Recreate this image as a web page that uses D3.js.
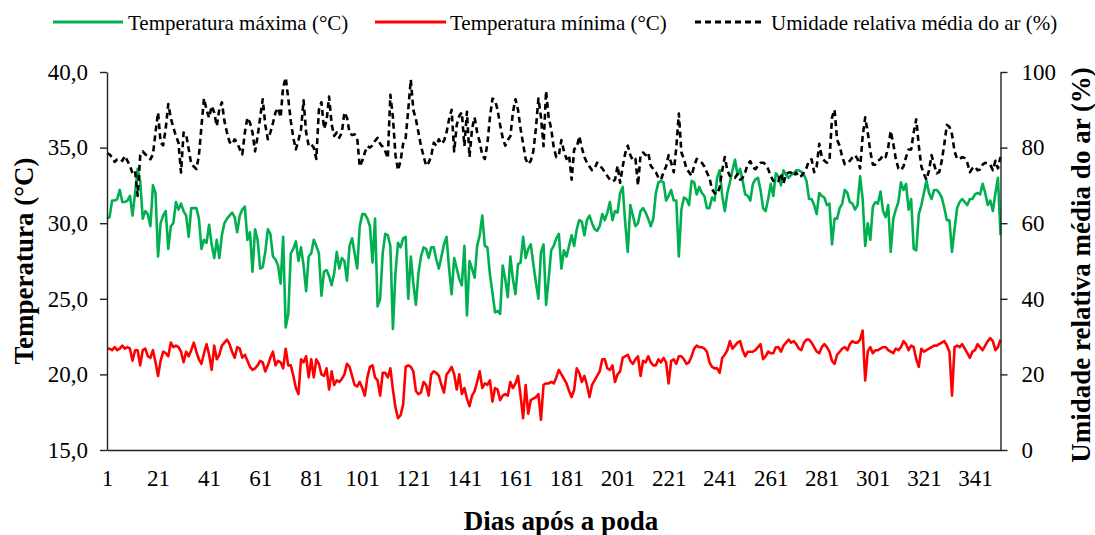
<!DOCTYPE html>
<html>
<head>
<meta charset="utf-8">
<script src="https://cdn.jsdelivr.net/npm/d3@7"></script>
<style>
  html, body { margin: 0; padding: 0; background: #fff; }
  svg { display: block; }
  text { font-family: "Liberation Serif", "Times New Roman", serif; fill: #000; }
</style>
</head>
<body>
<svg id="chart" width="1095" height="535"></svg>
<script>
// ---- Data ----
const firstDay = 1;
const lastDay = 351;

const tempMax = [
  30.3, 30.4, 31.5, 31.5, 31.6, 32.2, 31.4, 31.4, 31.5, 31.8,
  30.5, 32.0, 33.6, 32.8, 30.3, 30.8, 30.6, 29.8, 32.5, 32.0,
  27.8, 30.0, 30.5, 30.8, 28.3, 29.8, 30.0, 31.4, 30.9, 31.3,
  30.8, 30.5, 29.1, 31.0, 31.0, 31.0, 30.3, 28.3, 28.9, 28.7,
  29.9, 28.6, 27.7, 28.9, 27.7, 29.2, 30.0, 30.3, 30.5, 30.7,
  30.4, 29.4, 30.5, 30.9, 31.1, 28.9, 29.4, 26.8,
  29.6, 28.9, 27.0, 27.1, 28.1, 29.6, 29.3, 27.8, 27.6, 27.2, 26.0, 29.1,
  23.1, 24.0, 28.0, 28.3, 28.8, 27.5, 28.4, 27.2, 25.5, 27.8,
  28.0, 28.9, 28.5, 28.0, 25.2, 26.8, 26.9, 26.5, 25.9, 26.7,
  28.1, 27.0, 27.7, 27.5, 26.2, 28.5, 29.0, 28.0, 27.0, 29.8,
  30.6, 30.6, 30.3, 29.8, 27.4, 30.3, 24.5, 25.0, 28.0, 29.3,
  29.2, 28.5, 23.0, 26.7, 28.7, 28.4, 29.0,
  29.1, 25.0, 27.8, 26.0, 24.6, 26.7, 27.8, 28.4, 28.3, 27.7, 28.4, 28.4, 27.6,
  27.0, 27.8, 28.6, 29.1, 27.0, 25.3, 27.7, 27.0, 26.3, 25.9,
  28.5, 23.9, 27.5, 27.0, 26.4, 28.5, 29.2, 30.5, 28.5, 28.4,
  26.6, 25.4, 24.1, 24.2, 24.0, 27.2, 26.3, 25.1, 27.8, 26.3,
  25.3, 27.3, 27.4, 29.1, 27.7, 28.3, 28.6, 27.3, 26.1, 25.0,
  28.1, 28.6, 24.6, 26.3, 28.2, 28.5,
  29.0, 29.3, 27.0, 28.2, 27.8, 28.5, 29.2, 28.5, 29.6, 30.2, 30.1, 29.2, 30.2, 30.5,
  30.0, 29.6, 29.5, 29.8, 30.6, 30.2, 30.7, 31.4, 30.2, 30.8,
  30.7, 32.0, 32.4, 30.0, 28.1, 31.2, 30.5, 29.8, 30.0, 30.8,
  31.0, 30.7, 30.3, 29.8, 30.3, 32.0, 32.7, 32.8, 32.7, 31.5,
  31.8, 32.2, 31.5, 31.5, 27.8, 30.9, 31.7, 31.6, 31.2, 32.8,
  32.7, 31.9, 32.4, 32.0, 31.8,
  31.0, 31.0, 31.7, 31.5, 33.0, 33.5, 31.8, 30.8, 32.0, 32.7, 33.5, 34.2, 33.2, 33.6, 32.8,
  31.9, 31.8, 31.5, 32.6, 32.9, 33.0, 32.2, 31.0, 30.8, 31.6,
  32.6, 31.8, 33.3, 33.1, 32.5, 33.5, 33.2, 33.0, 33.2, 33.3,
  33.5, 33.5, 33.4, 33.2, 32.8, 31.6, 31.6, 31.2, 30.6, 32.0,
  31.8, 31.7, 31.2, 31.3, 28.6, 30.3, 30.3, 31.0, 31.3, 32.2, 32.0, 31.4,
  31.3, 30.9, 31.2, 33.1, 31.6, 28.5, 30.0, 28.9,
  31.1, 31.4, 31.3, 32.1, 30.8, 30.4, 31.2, 28.1, 30.3, 30.9,
  31.4, 32.7, 32.2, 32.6, 30.9, 31.6, 28.3, 28.2, 30.6, 31.2,
  32.0, 32.8, 32.0, 31.6, 32.2, 32.2, 32.0, 31.7, 31.0, 30.2,
  30.2, 28.1, 29.6, 31.0, 31.4, 31.6, 31.4, 31.2, 31.6, 31.6,
  31.9, 32.0, 31.9, 32.6, 32.0, 31.2, 31.5, 30.8, 32.0, 33.0, 29.2
];

const tempMin = [
  21.7, 21.7, 21.6, 21.8, 21.6, 21.7, 21.9, 21.7, 21.8, 21.7,
  20.9, 21.6, 21.6, 20.6, 21.6, 21.7, 21.2, 21.1, 21.6, 20.8,
  19.9, 20.9, 21.5, 21.4, 21.2, 22.1, 21.8, 21.9, 21.8, 21.5,
  20.8, 21.5, 21.2, 21.6, 22.1, 21.5, 21.0, 20.7, 21.4, 22.0,
  21.3, 20.3, 21.9, 21.0, 21.3, 21.9, 22.1, 22.3, 22.0, 21.5,
  21.1, 21.8, 21.7, 21.1, 21.3, 20.9, 20.5, 20.3,
  20.4, 20.6, 20.9, 20.8, 20.2, 20.6, 21.1, 21.5, 20.6, 20.9, 20.8, 20.4,
  21.7, 20.6, 20.6, 19.9, 19.1, 18.7, 21.0, 20.8, 21.2, 19.8,
  21.0, 19.8, 21.0, 20.7, 20.0, 19.9, 20.4, 19.0, 20.2, 19.3,
  19.6, 19.5, 19.7, 20.0, 20.7, 20.5, 19.9, 19.3, 19.2, 19.5,
  19.1, 18.6, 19.8, 20.5, 20.6, 19.8, 19.6, 18.6, 20.1, 20.1,
  19.8, 20.4, 19.0, 17.8, 17.1, 17.3, 18.0,
  20.5, 20.6, 20.5, 20.2, 18.9, 18.7, 18.8, 19.5, 19.3, 18.6, 20.0, 20.2, 20.1,
  19.9, 19.3, 18.8, 20.0, 20.2, 20.5, 20.0, 19.0, 20.0, 18.7,
  19.1, 18.4, 17.9, 18.6, 18.9, 19.5, 20.2, 19.1, 19.4, 19.3,
  19.6, 18.2, 19.1, 19.0, 18.3, 18.6, 18.7, 18.6, 19.5, 19.1,
  19.4, 19.9, 18.6, 17.1, 19.3, 17.4, 18.3, 18.4, 18.5, 18.7,
  17.0, 19.3, 19.4, 19.4, 19.5, 19.4,
  19.8, 20.3, 20.0, 19.7, 19.4, 18.9, 18.5, 19.0, 20.4, 20.1, 19.5, 19.9, 19.3, 18.5,
  19.3, 19.6, 19.9, 20.2, 21.0, 21.0, 20.4, 20.3, 20.6, 19.5,
  20.0, 20.2, 21.1, 21.2, 21.3, 20.9, 20.7, 21.0, 21.2, 19.9,
  20.9, 20.8, 21.2, 20.8, 20.6, 20.6, 21.0, 20.8, 21.1, 20.8,
  19.4, 20.9, 21.0, 20.7, 21.2, 21.2, 21.0, 20.7, 20.8, 21.2,
  21.7, 21.9, 21.8, 21.8, 21.7,
  21.5, 20.8, 20.5, 20.4, 20.4, 20.1, 21.1, 21.3, 21.6, 22.2, 21.7, 21.9, 22.1, 22.2, 21.6,
  21.2, 21.5, 21.5, 21.5, 21.6, 21.8, 22.0, 21.0, 21.2, 21.5,
  21.4, 21.4, 21.8, 21.8, 21.5, 21.9, 22.1, 22.3, 22.1, 22.2,
  22.0, 21.7, 21.6, 22.1, 22.3, 22.3, 22.1, 21.8, 21.5, 21.4,
  21.8, 22.0, 21.8, 21.5, 20.9, 20.7, 21.3, 21.5, 21.7, 21.8, 21.6, 22.0,
  22.2, 22.1, 22.1, 22.3, 22.9, 19.6, 21.5, 21.8,
  21.4, 21.6, 21.6, 21.7, 21.8, 21.8, 21.6, 21.5, 21.4, 21.7,
  21.6, 21.8, 22.2, 22.0, 21.6, 21.9, 21.8, 21.0, 20.5, 21.7,
  21.5, 21.6, 21.7, 21.8, 21.9, 21.9, 22.0, 22.1, 22.2, 21.9,
  21.5, 18.6, 21.8, 21.9, 21.8, 22.0, 21.7, 21.4, 21.1, 21.5,
  21.6, 22.0, 21.8, 21.6, 21.9, 22.2, 22.4, 22.2, 21.6, 21.8, 22.3
];

const humidity = [
  78.5, 78.2, 77.4, 76.2, 76.9, 77.1, 76.5, 77.8, 76.5, 75.2,
  73.2, 73.8, 67.2, 77.8, 79.0, 78.2, 77.8, 76.9, 78.2, 84.0,
  89.3, 81.3, 80.6, 85.0, 91.5, 87.8, 85.3, 83.1, 81.3, 73.4,
  84.0, 83.5, 79.6, 75.6, 75.0, 74.3, 77.8, 85.7, 93.0, 90.0,
  87.9, 91.0, 89.3, 85.7, 90.1, 92.0, 87.0, 84.0, 81.5, 80.9,
  82.2, 81.3, 79.6, 78.2, 84.0, 87.9, 86.6, 84.0,
  79.0, 83.0, 88.0, 92.8, 86.0, 82.2, 84.0, 86.5, 89.3, 90.5, 88.0, 96.0,
  98.5, 93.0, 87.0, 82.5, 79.5, 82.0, 84.8, 92.5, 84.0, 80.5,
  80.9, 80.0, 77.0, 90.0, 92.0, 85.0, 87.0, 93.5, 86.2, 83.1,
  84.0, 82.6, 84.0, 89.3, 87.9, 84.0, 83.3, 83.5, 82.6, 75.0,
  76.5, 78.7, 80.4, 80.0, 80.6, 81.8, 82.6, 81.0, 80.2, 79.0,
  77.2, 94.0, 88.0, 78.0, 74.0, 76.5, 81.0,
  82.6, 90.0, 98.0, 90.0, 87.5, 84.0, 80.4, 77.8, 75.2, 76.0, 77.8, 81.3, 80.5,
  82.2, 81.0, 81.8, 84.0, 87.5, 90.0, 79.0, 86.0, 88.4, 89.3,
  80.4, 89.5, 77.5, 85.0, 88.0, 84.0, 81.5, 78.0, 77.0, 81.0,
  88.0, 93.0, 92.5, 90.0, 86.0, 82.6, 80.5, 82.0, 83.0, 89.3,
  92.8, 90.0, 85.0, 81.0, 77.0, 75.6, 76.5, 79.0, 85.0, 93.0,
  88.0, 80.4, 95.0, 88.0, 85.0, 80.0,
  77.5, 78.0, 82.0, 79.0, 77.0, 78.0, 71.5, 79.6, 80.0, 83.0, 80.0, 77.5, 76.0, 75.0,
  74.0, 74.5, 76.0, 75.2, 74.5, 73.5, 72.5, 71.5, 71.0, 71.5,
  75.2, 70.7, 75.0, 78.5, 80.5, 78.0, 76.6, 77.0, 70.0, 78.0,
  78.7, 78.0, 78.7, 75.2, 74.3, 73.5, 72.0, 71.5, 73.5, 75.0,
  78.0, 76.0, 73.5, 80.0, 89.0, 78.7, 77.0, 74.3, 73.5, 72.5,
  75.2, 77.0, 76.5, 76.0, 75.0,
  73.4, 72.0, 69.0, 68.0, 67.7, 69.5, 74.0, 77.5, 74.0, 72.5, 72.5, 72.0, 73.0, 71.5, 72.0,
  73.5, 75.6, 76.4, 74.8, 74.3, 75.2, 76.0, 76.0, 75.6, 74.3,
  72.5, 71.2, 71.7, 71.2, 73.2, 70.5, 73.0, 73.4, 73.4, 72.5,
  73.4, 72.2, 72.5, 73.4, 74.6, 76.6, 76.9, 73.5, 75.0, 81.0,
  77.5, 76.5, 76.0, 76.5, 88.0, 90.0, 82.0, 80.5, 77.5, 75.6, 76.0, 76.5,
  77.4, 78.0, 77.0, 74.5, 83.0, 88.0, 84.0, 79.0,
  75.5, 75.5, 76.5, 77.0, 78.0, 77.5, 80.0, 84.4, 81.0, 77.0,
  74.5, 74.0, 75.0, 77.5, 79.5, 79.5, 84.0, 87.5, 80.5, 75.0,
  73.0, 71.5, 74.0, 78.0, 75.5, 73.2, 73.5, 76.5, 81.0, 86.0,
  85.5, 83.5, 79.0, 77.0, 77.0, 77.5, 77.2, 76.0, 73.5, 74.5,
  75.0, 74.0, 74.2, 75.5, 76.0, 75.8, 75.5, 74.0, 76.5, 74.5, 77.5
];

const xTicks = [1, 21, 41, 61, 81, 101, 121, 141, 161, 181, 201, 221, 241, 261, 281, 301, 321, 341];
const leftTicks = [15, 20, 25, 30, 35, 40];
const rightTicks = [0, 20, 40, 60, 80, 100];

const seriesNames = ["Temperatura máxima (°C)", "Temperatura mínima (°C)", "Umidade relativa média do ar (%)"];
const leftTitle = "Temperatura (°C)";
const rightTitle = "Umidade relativa média do ar (%)";
const xTitle = "Dias após a poda";

// ---- Drawing ----
const svg = d3.select("#chart");
const plot = { left: 107, right: 1000.5, top: 72, bottom: 450 };
const axisColor = "#222";

const x = d3.scaleLinear().domain([firstDay, lastDay]).range([plot.left, plot.right]);
const yL = d3.scaleLinear().domain([15, 40]).range([plot.bottom, plot.top]);
const yR = d3.scaleLinear().domain([0, 100]).range([plot.bottom, plot.top]);

const commaFmt = d => d3.format(".1f")(d).replace(".", ",");

// lines
const lineL = d3.line().x((d, i) => x(firstDay + i)).y(d => yL(d));
const lineR = d3.line().x((d, i) => x(firstDay + i)).y(d => yR(d));

svg.append("path").datum(tempMax).attr("d", lineL)
  .attr("fill", "none").attr("stroke", "#00B050").attr("stroke-width", 2.6).attr("stroke-linejoin", "round");
svg.append("path").datum(tempMin).attr("d", lineL)
  .attr("fill", "none").attr("stroke", "#FF0000").attr("stroke-width", 2.6).attr("stroke-linejoin", "round");
svg.append("path").datum(humidity).attr("d", lineR)
  .attr("fill", "none").attr("stroke", "#000").attr("stroke-width", 2.6)
  .attr("stroke-dasharray", "6,4").attr("stroke-linejoin", "round");

// axes
const gL = svg.append("g").attr("transform", `translate(${plot.left},0)`)
  .call(d3.axisLeft(yL).tickValues(leftTicks).tickFormat(commaFmt).tickSize(7).tickSizeOuter(0).tickPadding(12));
const gR = svg.append("g").attr("transform", `translate(${plot.right},0)`)
  .call(d3.axisRight(yR).tickValues(rightTicks).tickFormat(d3.format("d")).tickSize(7).tickSizeOuter(0).tickPadding(14));
const gB = svg.append("g").attr("transform", `translate(0,${plot.bottom})`)
  .call(d3.axisBottom(x).tickValues(xTicks).tickFormat(d3.format("d")).tickSize(0).tickSizeOuter(0).tickPadding(20));

[gL, gR, gB].forEach(g => {
  g.select(".domain").attr("stroke", axisColor).attr("stroke-width", 1.4);
  g.selectAll(".tick line").attr("stroke", axisColor).attr("stroke-width", 1.4);
  g.selectAll(".tick text")
    .attr("font-family", '"Liberation Serif", "Times New Roman", serif')
    .attr("font-size", 23).attr("fill", "#000");
});

// axis titles
svg.append("text")
  .attr("transform", `translate(33,${(plot.top + plot.bottom) / 2}) rotate(-90)`)
  .attr("text-anchor", "middle").attr("font-size", 27).attr("font-weight", "bold")
  .text(leftTitle);
svg.append("text")
  .attr("transform", `translate(1090,${(plot.top + plot.bottom) / 2 + 4}) rotate(-90)`)
  .attr("text-anchor", "middle").attr("font-size", 27).attr("font-weight", "bold")
  .text(rightTitle);
svg.append("text")
  .attr("x", 561).attr("y", 530)
  .attr("text-anchor", "middle").attr("font-size", 27).attr("font-weight", "bold")
  .text(xTitle);

// legend
const legendItems = [
  { name: seriesNames[0], color: "#00B050", dash: null, x0: 53, x1: 123, tx: 128 },
  { name: seriesNames[1], color: "#FF0000", dash: null, x0: 375, x1: 446, tx: 450 },
  { name: seriesNames[2], color: "#000", dash: "6,4", x0: 695, x1: 765, tx: 771 }
];
const lg = svg.append("g");
legendItems.forEach(it => {
  lg.append("line").attr("x1", it.x0).attr("x2", it.x1).attr("y1", 22).attr("y2", 22)
    .attr("stroke", it.color).attr("stroke-width", 2.8)
    .attr("stroke-dasharray", it.dash);
  lg.append("text").attr("x", it.tx).attr("y", 29.5).attr("font-size", 21).text(it.name);
});
</script>
</body>
</html>
